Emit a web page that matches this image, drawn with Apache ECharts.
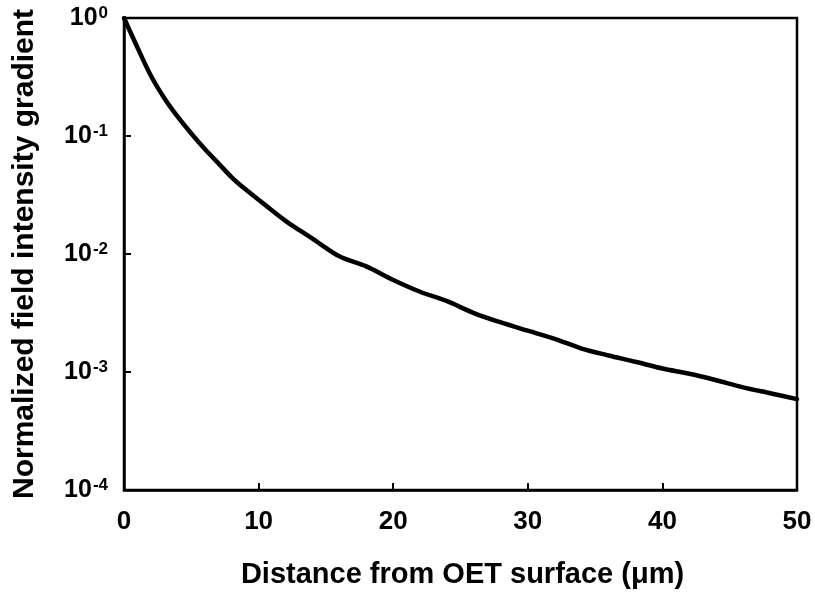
<!DOCTYPE html>
<html><head><meta charset="utf-8">
<script src="https://cdn.jsdelivr.net/npm/echarts@6/dist/echarts.min.js"></script>
<style>html,body{margin:0;padding:0;background:#fff}#c{width:815px;height:594px}</style>
</head><body><div id="c"></div>
<script>
var distance = [0,1,2,3,4,5,6,7,8,9,10,12,14,16,18,20,22,24,26,28,30,32,34,36,38,40,42,44,46,48,50];
var gradient = [1,0.562,0.324,0.209,0.145,0.105,0.0776,0.0589,0.0447,0.0355,0.0288,0.0191,0.0135,0.00955,0.00785,0.00603,0.00479,0.00398,0.00316,0.00263,0.00224,0.00191,0.00158,0.00138,0.00122,0.00107,0.000966,0.000851,0.000741,0.000661,0.000589];
var xTicks = [0,10,20,30,40,50];
var yExponents = [0,-1,-2,-3,-4];
var xTitle = 'Distance from OET surface (\u03bcm)';
var yTitle = 'Normalized field intensity gradient';

var F = 'Liberation Sans, Arial, sans-serif';
var chart = echarts.init(document.getElementById('c'));
chart.setOption({
  animation:false,
  backgroundColor:'#fff',
  grid:{left:124,right:18,top:18,bottom:104,show:true,borderColor:'#000',borderWidth:2.5,backgroundColor:'transparent'},
  xAxis:{type:'value',min:0,max:50,interval:10,
    name:xTitle,nameLocation:'middle',nameGap:70,
    nameTextStyle:{fontFamily:F,fontWeight:'bold',fontSize:29,color:'#000',padding:[0,0,0,4]},
    axisLine:{lineStyle:{color:'#000',width:2.5}},
    axisTick:{inside:true,length:7,lineStyle:{color:'#000',width:2}},
    splitLine:{show:false},
    axisLabel:{fontFamily:F,fontWeight:'bold',fontSize:26,color:'#000',margin:19,
      formatter:function(v){return xTicks.indexOf(v)>=0?String(v):'';}}
  },
  yAxis:{type:'log',logBase:10,min:0.0001,max:1,
    name:yTitle,nameLocation:'middle',nameGap:84,
    nameTextStyle:{fontFamily:F,fontWeight:'bold',fontSize:30,color:'#000'},
    axisLine:{lineStyle:{color:'#000',width:2.5}},
    axisTick:{inside:true,length:7,lineStyle:{color:'#000',width:2}},
    splitLine:{show:false},
    axisLabel:{margin:16,
      formatter:function(v){var e=Math.round(Math.log10(v));if(yExponents.indexOf(e)<0)return '';return '{b|10}{s|'+e+'}';},
      rich:{b:{fontFamily:F,fontWeight:'bold',fontSize:25,color:'#000',lineHeight:26},
            s:{fontFamily:F,fontWeight:'bold',fontSize:17,color:'#000',verticalAlign:'top',lineHeight:17,padding:[0,0,0,1]}}}
  },
  series:[{type:'line',data:distance.map(function(d,i){return [d,gradient[i]];}),
    showSymbol:false,smooth:0.3,lineStyle:{color:'#000',width:4.5,cap:'round'}}]
});
</script></body></html>
